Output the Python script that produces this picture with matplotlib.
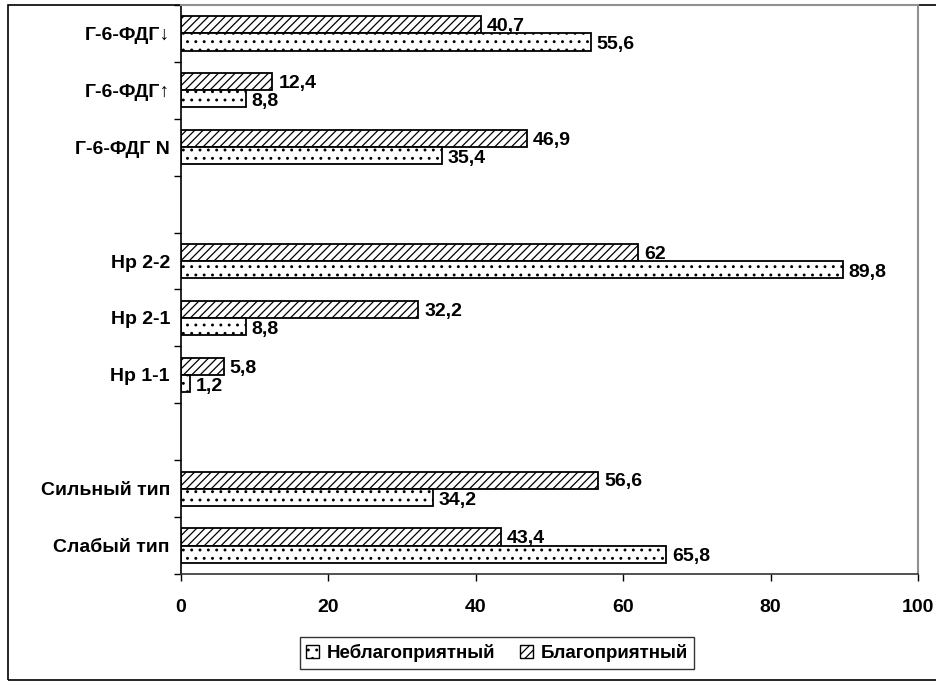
import matplotlib
matplotlib.use("Agg")
import matplotlib.pyplot as plt
from matplotlib.patches import Patch, Rectangle
import numpy as np

plt.rcParams['font.family'] = ['Liberation Sans', 'DejaVu Sans']
plt.rcParams['font.weight'] = 'bold'
plt.rcParams['hatch.linewidth'] = 0.9

categories = ["Слабый тип", "Сильный тип", "", "Hp 1-1", "Hp 2-1", "Hp 2-2", "",
              "Г-6-ФДГ N", "Г-6-ФДГ↑", "Г-6-ФДГ↓"]
favorable = [43.4, 56.6, None, 5.8, 32.2, 62, None, 46.9, 12.4, 40.7]      # Благоприятный
unfavorable = [65.8, 34.2, None, 1.2, 8.8, 89.8, None, 35.4, 8.8, 55.6]    # Неблагоприятный
x_ticks = [0, 20, 40, 60, 80, 100]

FS = 14


def fmt(v):
    return f"{v:g}".replace(".", ",")


fig = plt.figure(figsize=(9.36, 6.82), dpi=100)
ax = fig.add_axes([181/936, 1-574/682, (918-181)/936, (574-5)/682])

idx = [i for i, v in enumerate(favorable) if v is not None]
y = np.arange(len(categories))
h = 0.3

fav_vals = [favorable[i] for i in idx]
unf_vals = [unfavorable[i] for i in idx]
yy = np.array(idx, dtype=float)

ax.barh(yy + h/2, fav_vals, height=h, color='white', edgecolor='black',
        hatch='////', linewidth=1.3)
ax.barh(yy - h/2, unf_vals, height=h, color='white', edgecolor='black',
        hatch='..', linewidth=1.3)

for yi, v in zip(yy, fav_vals):
    ax.text(v + 0.8, yi + h/2 - 0.03, fmt(v), va='center', ha='left',
            fontsize=FS, fontweight='bold')
for yi, v in zip(yy, unf_vals):
    ax.text(v + 0.8, yi - h/2 - 0.05, fmt(v), va='center', ha='left',
            fontsize=FS, fontweight='bold')

ax.set_xlim(0, 100)
ax.set_ylim(-0.5, len(categories) - 0.5)
ax.set_xticks(x_ticks)
ax.set_xticklabels([str(t) for t in x_ticks], fontsize=FS, fontweight='bold')
ax.set_yticks(y)
ax.set_yticklabels(categories, fontsize=FS, fontweight='bold')
ax.tick_params(axis='y', which='major', length=0, pad=8)
ax.set_yticks(np.arange(-0.5, len(categories), 1.0), minor=True)
ax.tick_params(axis='y', which='minor', length=5, width=1, direction='out')
ax.tick_params(axis='x', length=5, width=1, direction='out', pad=13)

ax.spines['left'].set_color('black')
ax.spines['left'].set_linewidth(1.2)
ax.spines['bottom'].set_color('#333333')
ax.spines['bottom'].set_linewidth(1.2)
for s in ('top', 'right'):
    ax.spines[s].set_color('#909090')
    ax.spines[s].set_linewidth(1.5)

handles = [Patch(facecolor='white', edgecolor='black', hatch='..', label='Неблагоприятный'),
           Patch(facecolor='white', edgecolor='black', hatch='////', label='Благоприятный')]
leg = fig.legend(handles=handles, loc='center', bbox_to_anchor=(497/936, 1-653/682), ncol=2,
                 frameon=True, fancybox=False, edgecolor='black',
                 handlelength=0.7, handleheight=0.7, handletextpad=0.4, columnspacing=1.3,
                 borderpad=0.35, borderaxespad=0.0, prop={'weight': 'bold', 'size': 13.5})
leg.get_frame().set_linewidth(1.0)

fig.patches.append(Rectangle((8/936, 1-680/682), 1.0, (680-5)/682, transform=fig.transFigure,
                             fill=False, edgecolor='black', linewidth=1.2, zorder=-1))

fig.savefig('out.png', dpi=100)
